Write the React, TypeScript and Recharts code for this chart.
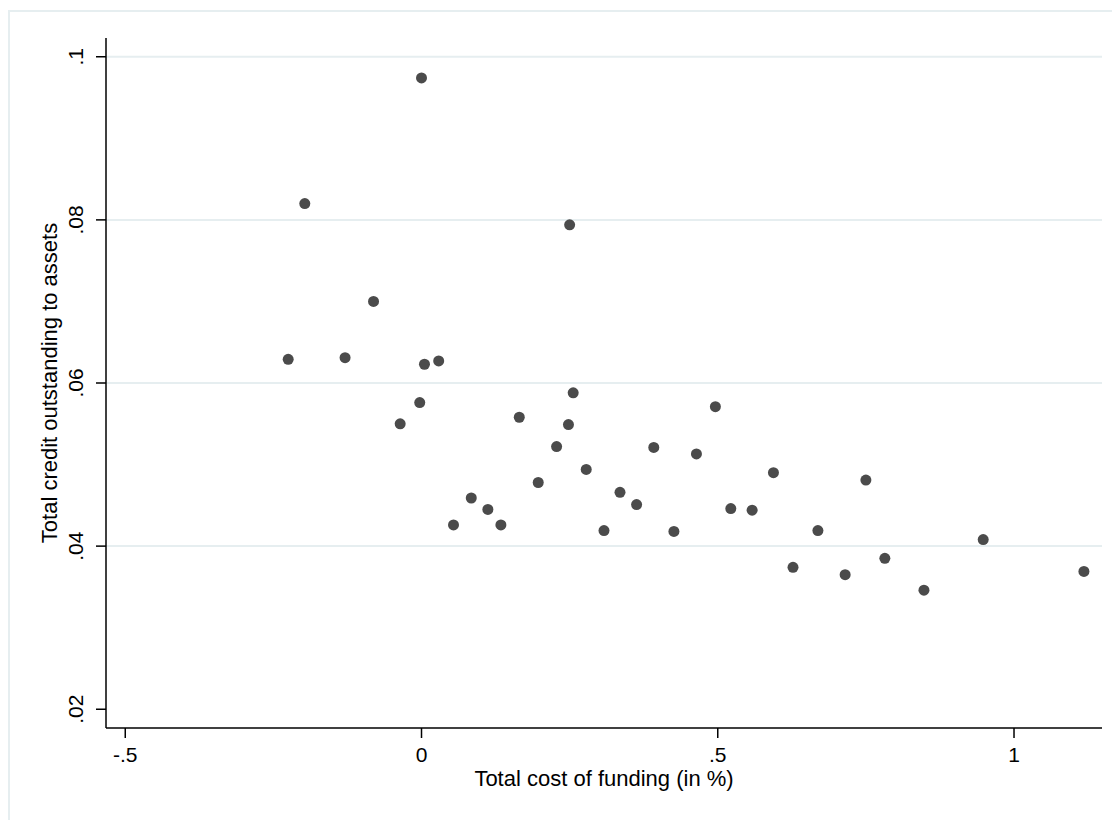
import { ScatterChart, Scatter, XAxis, YAxis, ReferenceLine, Label } from 'recharts'

// funding cost (x) vs credit outstanding / assets (y)
const fundingCost = [
  -0.225, -0.197, -0.129, -0.081, -0.036, -0.003, 0.0, 0.005, 0.029, 0.054,
  0.084, 0.112, 0.134, 0.165, 0.197, 0.228, 0.248, 0.25, 0.256, 0.278,
  0.308, 0.335, 0.363, 0.392, 0.426, 0.464, 0.496, 0.522, 0.558, 0.594,
  0.627, 0.669, 0.715, 0.75, 0.782, 0.848, 0.948, 1.118,
]
const creditToAssets = [
  0.0629, 0.082, 0.0631, 0.07, 0.055, 0.0576, 0.0974, 0.0623, 0.0627, 0.0426,
  0.0459, 0.0445, 0.0426, 0.0558, 0.0478, 0.0522, 0.0549, 0.0794, 0.0588, 0.0494,
  0.0419, 0.0466, 0.0451, 0.0521, 0.0418, 0.0513, 0.0571, 0.0446, 0.0444, 0.049,
  0.0374, 0.0419, 0.0365, 0.0481, 0.0385, 0.0346, 0.0408, 0.0369,
]
const xTicks = [-0.5, 0, 0.5, 1]
const yTicks = [0.02, 0.04, 0.06, 0.08, 0.1]
const gridValues = [0.04, 0.06, 0.08, 0.1]

const FONT = '"Liberation Sans", Arial, Helvetica, sans-serif'
const GRID = '#e6eef0'

// Stata-style labels: drop the leading zero
const fmt = (v: number) => {
  if (v === 0) return '0'
  const s = String(v)
  return s.replace(/^(-?)0\./, '$1.')
}

const points = fundingCost.map((x, i) => ({ x, y: creditToAssets[i] }))

function YTick(props: any) {
  const { x, y, payload } = props
  return (
    <text
      x={x}
      y={y}
      transform={`rotate(-90, ${x}, ${y})`}
      textAnchor="middle"
      fontSize={21}
      fontFamily={FONT}
      fill="#000"
    >
      {fmt(payload.value)}
    </text>
  )
}

function Dot(props: any) {
  return <circle cx={props.cx} cy={props.cy} r={5.5} fill="#4b4b4b" />
}

export default function App() {
  return (
    <div style={{ position: 'relative', width: 1104, height: 812 }}>
      <div
        style={{
          position: 'absolute',
          left: 0,
          top: 2,
          width: 1104,
          height: 810,
          borderLeft: `2px solid ${GRID}`,
          borderTop: `2px solid ${GRID}`,
          boxSizing: 'border-box',
        }}
      />
      <div style={{ position: 'absolute', left: 0, top: 0 }}>
        <ScatterChart width={1104} height={812} margin={{ top: 30, right: 10, bottom: 0, left: 0 }}>
          {gridValues.map((v) => (
            <ReferenceLine key={v} y={v} stroke={GRID} strokeWidth={2} />
          ))}
          <XAxis
            type="number"
            dataKey="x"
            domain={[-0.5325, 1.1485]}
            allowDataOverflow
            ticks={xTicks}
            tickFormatter={fmt}
            height={92}
            tickSize={10}
            tickMargin={9}
            axisLine={{ stroke: '#000', strokeWidth: 1.5 }}
            tickLine={{ stroke: '#000', strokeWidth: 1.5 }}
            tick={{ fill: '#000', fontSize: 21, fontFamily: FONT }}
          >
            <Label
              content={(p: any) => {
                const vb = p.viewBox
                return (
                  <text
                    x={vb.x + vb.width / 2}
                    y={vb.y + 58}
                    textAnchor="middle"
                    fontSize={22}
                    fontFamily={FONT}
                    fill="#000"
                  >
                    Total cost of funding (in %)
                  </text>
                )
              }}
            />
          </XAxis>
          <YAxis
            type="number"
            dataKey="y"
            domain={[0.0177, 0.1023]}
            allowDataOverflow
            ticks={yTicks}
            width={98}
            tickSize={10}
            tickMargin={13}
            axisLine={{ stroke: '#000', strokeWidth: 1.5 }}
            tickLine={{ stroke: '#000', strokeWidth: 1.5 }}
            tick={<YTick />}
          >
            <Label
              content={(p: any) => {
                const vb = p.viewBox
                const cx = 49
                const cy = vb.y + vb.height / 2
                return (
                  <text
                    x={cx}
                    y={cy}
                    transform={`rotate(-90, ${cx}, ${cy})`}
                    textAnchor="middle"
                    fontSize={22}
                    fontFamily={FONT}
                    fill="#000"
                  >
                    Total credit outstanding to assets
                  </text>
                )
              }}
            />
          </YAxis>
          <Scatter data={points} shape={<Dot />} isAnimationActive={false} />
        </ScatterChart>
      </div>
    </div>
  )
}
